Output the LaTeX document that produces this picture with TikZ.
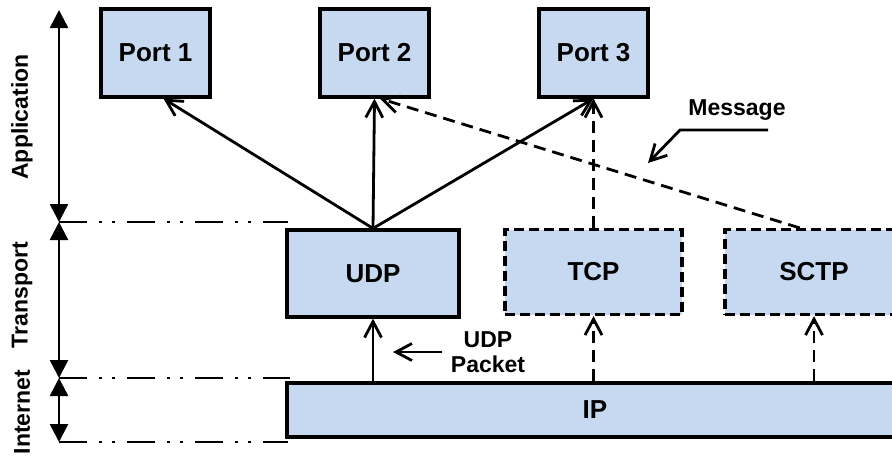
\documentclass[tikz,border=0pt]{standalone}
\usepackage{fontspec}
\setmainfont{Liberation Sans}
\usetikzlibrary{arrows.meta}
\definecolor{boxblue}{RGB}{198,217,240}
\tikzset{
  box/.style={draw, line width=1.6pt, fill=boxblue, inner sep=0pt,
    font=\fontsize{13}{15}\selectfont\bfseries},
  dbox/.style={box, dash pattern=on 5pt off 2.5pt},
  lbl/.style={font=\fontsize{11.5}{12.5}\selectfont\bfseries, align=center},
  flow/.style={line width=1.4pt, -{Straight Barb[length=8pt,width=8.5pt]}},
  dflow/.style={flow, dash pattern=on 6pt off 3.5pt},
  layer/.style={line width=1.3pt, {Triangle[length=9pt,width=9pt]}-{Triangle[length=9pt,width=9pt]}},
  sep/.style={line width=1.4pt, dash pattern=on 14pt off 6pt on 1.5pt off 5pt on 1.5pt off 6pt}
}
\begin{document}
\begin{tikzpicture}[x=0.5pt, y=-0.5pt]

    \useasboundingbox (0,0) rectangle (892,457);
    \clip (0,0) rectangle (892,457);

    \node[box, minimum width=54.5pt, minimum height=44pt] (p1) at (155.5,53) {Port 1};
    \node[box, minimum width=54.5pt, minimum height=44pt] (p2) at (374.5,53) {Port 2};
    \node[box, minimum width=54.5pt, minimum height=44pt] (p3) at (593.5,53) {Port 3};
    \node[box, minimum width=86pt, minimum height=43.5pt] (udp) at (373,273.5) {UDP};
    \node[dbox, minimum width=88.5pt, minimum height=42.5pt] (tcp) at (593.5,272) {TCP};
    \node[dbox, minimum width=89pt, minimum height=42.5pt] (sctp) at (814,272) {SCTP};
    \node[box, minimum width=308pt, minimum height=27pt] (ip) at (595,410) {IP};

    \node[lbl, rotate=90] (app) at (22,117) {Application};
    \node[lbl, rotate=90] (trn) at (22,295) {Transport};
    \node[lbl, rotate=90] (inet) at (22,412) {Internet};
    \node[lbl] (msg) at (737,110) {Message};
    \node[lbl] (pkt) at (488,352) {UDP\\Packet};

    \coordinate (t0) at (59,10);
    \coordinate (t1) at (59,222);
    \coordinate (t2) at (59,378);
    \coordinate (t3) at (59,442);
    \coordinate (e1) at (288,222);
    \coordinate (e2) at (290,378);
    \coordinate (e3) at (288,442);
    \coordinate (m1) at (768,130);
    \coordinate (m2) at (680,130);
    \coordinate (m3) at (648,163);
    \coordinate (k1) at (442,352);
    \coordinate (k2) at (393,352);

    \draw [layer] (t0) to (t1);
    \draw [layer] (t1) to (t2);
    \draw [layer] (t2) to (t3);
    \draw [sep] (t1) to (e1);
    \draw [sep] (t2) to (e2);
    \draw [sep] (t3) to (e3);

    \draw [flow] (udp.north) to (p1.-80);
    \draw [flow] (udp.north) to (p2.south);
    \draw [flow] (udp.north) to (p3.south);
    \draw [dflow] (tcp.north) to (p3.south);
    \draw [dflow] (sctp.108) to (p2.-83);
    \draw [flow] (udp.south |- ip.north) to (udp.south);
    \draw [dflow] (tcp.south |- ip.north) to (tcp.south);
    \draw [dflow] (sctp.south |- ip.north) to (sctp.south);
    \draw [flow] (m1) -- (m2) -- (m3);
    \draw [flow] (k1) to (k2);

\end{tikzpicture}
\end{document}
